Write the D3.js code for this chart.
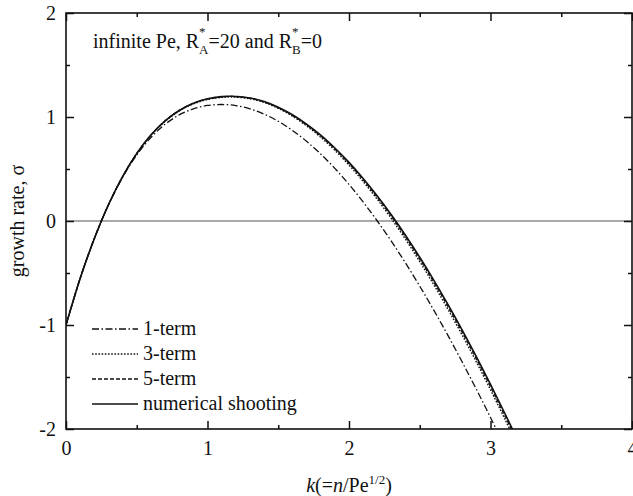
<!DOCTYPE html>
<html><head><meta charset="utf-8">
<script src="https://cdn.jsdelivr.net/npm/d3@7"></script>
<style>
html,body{margin:0;padding:0;background:#fff;}
svg text{font-family:"Liberation Serif","Times New Roman",serif;fill:#111;}
</style></head>
<body><svg id="c" width="633" height="496"></svg>
<script>
// ---- data ----
const kNum = [0,0.1,0.2,0.3,0.4,0.5,0.6,0.7,0.8,0.9,1.0,1.1,1.17,1.3,1.4,1.5,1.6,1.7,1.8,1.9,2.0,2.1,2.2,2.3,2.4,2.5,2.6,2.7,2.8,2.9,3.0,3.1,3.2];
const sigmaNumerical = [-1,-0.553,-0.170,0.156,0.427,0.649,0.826,0.962,1.063,1.133,1.175,1.196,1.200,1.183,1.148,1.094,1.022,0.932,0.826,0.702,0.564,0.409,0.240,0.057,-0.139,-0.349,-0.571,-0.805,-1.049,-1.305,-1.571,-1.846,-2.13];
const sigma5term = [-1,-0.553,-0.170,0.156,0.427,0.649,0.826,0.962,1.062,1.131,1.173,1.194,1.198,1.181,1.145,1.090,1.016,0.925,0.818,0.692,0.553,0.397,0.227,0.043,-0.155,-0.366,-0.589,-0.824,-1.069,-1.326,-1.593,-1.869,-2.15];
const sigma3term = [-1,-0.553,-0.170,0.156,0.427,0.648,0.824,0.958,1.058,1.126,1.168,1.189,1.193,1.176,1.140,1.083,1.008,0.915,0.806,0.679,0.538,0.380,0.208,0.022,-0.177,-0.390,-0.614,-0.851,-1.097,-1.355,-1.623,-1.900,-2.19];
const k1 = [0,0.1,0.2,0.3,0.4,0.5,0.6,0.7,0.8,0.9,1.0,1.1,1.2,1.3,1.4,1.5,1.6,1.7,1.8,1.9,2.0,2.1,2.2,2.3,2.4,2.5,2.6,2.7,2.8,2.9,3.0,3.1];
const sigma1term = [-1,-0.551,-0.168,0.154,0.420,0.634,0.803,0.930,1.020,1.079,1.111,1.120,1.110,1.079,1.028,0.959,0.871,0.766,0.644,0.506,0.352,0.183,0.0,-0.196,-0.405,-0.627,-0.859,-1.102,-1.356,-1.618,-1.889,-2.17];
const xTicks = [0,1,2,3,4];
const yTicks = [-2,-1,0,1,2];
const xMinor = [0.5,1.5,2.5,3.5];
const yMinor = [-1.5,-0.5,0.5,1.5];
const legendLabels = ["1-term","3-term","5-term","numerical shooting"];

// ---- layout ----
const L=66, R=632, T=13, B=429;
const svg = d3.select("#c");
const x = d3.scaleLinear().domain([0,4]).range([L,R]);
const y = d3.scaleLinear().domain([-2,2]).range([B,T]);

svg.append("defs").append("clipPath").attr("id","clip")
  .append("rect").attr("x",L).attr("y",T).attr("width",R-L).attr("height",B-T);

// zero line
svg.append("line").attr("x1",x(0)).attr("x2",x(4)).attr("y1",y(0)).attr("y2",y(0))
  .attr("stroke","#555").attr("stroke-width",1.1);

const styles = [
  {dash:"7,2.5,1.5,2.5", w:1.3},
  {dash:"1.6,1.6", w:1.4},
  {dash:"4,2", w:1.3},
  {dash:null, w:1.6}
];
const series = [
  {k:k1, s:sigma1term},
  {k:kNum, s:sigma3term},
  {k:kNum, s:sigma5term},
  {k:kNum, s:sigmaNumerical}
];
const line = d3.line().curve(d3.curveCatmullRom.alpha(0.5));
const g = svg.append("g").attr("clip-path","url(#clip)");
series.forEach((se,i)=>{
  const pts = se.k.map((kk,j)=>[x(kk), y(se.s[j])]);
  const p = g.append("path").attr("d",line(pts)).attr("fill","none")
    .attr("stroke","#111").attr("stroke-width",styles[i].w);
  if(styles[i].dash) p.attr("stroke-dasharray",styles[i].dash);
});

// axes (ticks inward, mirrored)
function axisGroup(axis, tr){
  const a = svg.append("g").attr("transform",tr).call(axis);
  a.select(".domain").remove();
  a.selectAll("line").attr("stroke","#111").attr("stroke-width",1.5);
  return a;
}
const fs = 20;
const bx = axisGroup(d3.axisBottom(x).tickValues(xTicks).tickSize(-8).tickPadding(12).tickFormat(d3.format("d")), `translate(0,${B})`);
bx.selectAll("text").attr("font-size",fs).attr("font-family","Liberation Serif").attr("fill","#111");
axisGroup(d3.axisBottom(x).tickValues(xMinor).tickSize(-4).tickFormat(""), `translate(0,${B})`);
axisGroup(d3.axisTop(x).tickValues(xTicks).tickSize(-8).tickFormat(""), `translate(0,${T})`);
axisGroup(d3.axisTop(x).tickValues(xMinor).tickSize(-4).tickFormat(""), `translate(0,${T})`);
const ly = axisGroup(d3.axisLeft(y).tickValues(yTicks).tickSize(-8).tickPadding(10).tickFormat(d3.format("d")), `translate(${L},0)`);
ly.selectAll("text").attr("font-size",fs).attr("font-family","Liberation Serif").attr("fill","#111").text(d=>d<0?"-"+Math.abs(d):d);
axisGroup(d3.axisLeft(y).tickValues(yMinor).tickSize(-4).tickFormat(""), `translate(${L},0)`);
axisGroup(d3.axisRight(y).tickValues(yTicks).tickSize(-8).tickFormat(""), `translate(${R},0)`);
axisGroup(d3.axisRight(y).tickValues(yMinor).tickSize(-4).tickFormat(""), `translate(${R},0)`);

// frame
svg.append("rect").attr("x",L).attr("y",T).attr("width",R-L).attr("height",B-T)
  .attr("fill","none").attr("stroke","#111").attr("stroke-width",1.6);

// legend
const lx0=92, lx1=138, ly0=329, ldy=25;
legendLabels.forEach((lab,i)=>{
  const yy = ly0+i*ldy;
  const l = svg.append("line").attr("x1",lx0).attr("x2",lx1).attr("y1",yy).attr("y2",yy)
    .attr("stroke","#111").attr("stroke-width",styles[i].w);
  if(styles[i].dash) l.attr("stroke-dasharray",styles[i].dash);
  svg.append("text").attr("x",lx1+5).attr("y",yy+6).attr("font-size",fs).text(lab);
});

// annotation: infinite Pe, R*_A=20 and R*_B=0
(function(){
  let cx = 93;
  function piece(str, opts={}){
    const el = svg.append("text").attr("x",cx).attr("y",48+(opts.dy||0))
      .attr("font-size",opts.fs||fs).text(str);
    return el;
  }
  let e = piece("infinite Pe, R"); cx += e.node().getComputedTextLength();
  function supsub(sub){
    const s1 = piece("*",{fs:13,dy:-12});
    const s2 = piece(sub,{fs:13,dy:6});
    cx += Math.max(s1.node().getComputedTextLength(), s2.node().getComputedTextLength());
  }
  supsub("A");
  e = piece("=20 and R"); cx += e.node().getComputedTextLength();
  supsub("B");
  e = piece("=0");
})();

// y axis title
svg.append("text").attr("transform",`translate(24,${(T+B)/2}) rotate(-90)`)
  .attr("text-anchor","middle").attr("font-size",fs).text("growth rate, σ");

// x axis title: k(=n/Pe^{1/2})
(function(){
  const tt = svg.append("text").attr("x",x(2)).attr("y",492).attr("text-anchor","middle").attr("font-size",fs);
  tt.append("tspan").attr("font-style","italic").text("k");
  tt.append("tspan").text("(=");
  tt.append("tspan").attr("font-style","italic").text("n");
  tt.append("tspan").text("/Pe");
  tt.append("tspan").attr("font-size",13).attr("dy",-8).text("1/2");
  tt.append("tspan").attr("dy",8).text(")");
})();
</script></body></html>
